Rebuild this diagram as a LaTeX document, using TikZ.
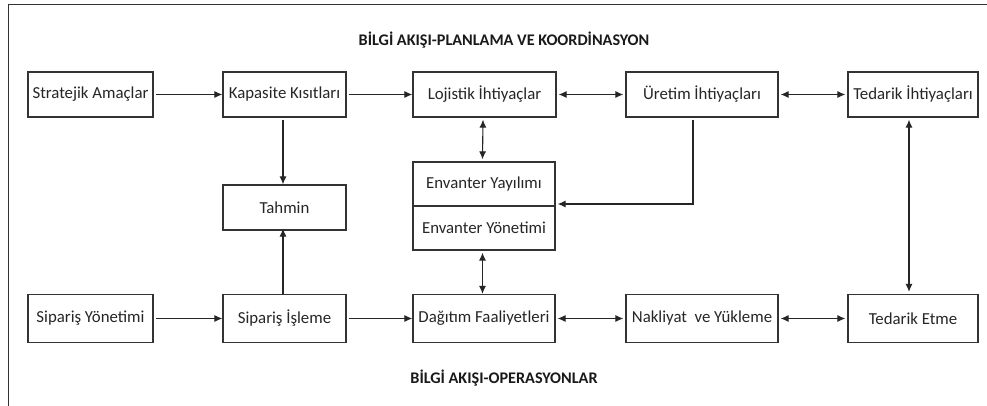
\documentclass[tikz,border=0pt]{standalone}
\usepackage{fontspec}
\setmainfont{Carlito}
\usetikzlibrary{arrows.meta}
\begin{document}
\begin{tikzpicture}[x=1pt,y=-1pt,
  box/.style={draw=black!80, line width=1.3pt, fill=white, inner sep=0pt,
    font=\fontsize{16.8}{19}\selectfont, text=black!85},
  title/.style={font=\fontsize{16.2}{19}\selectfont\bfseries, text=black!90},
  conn/.style={draw=black!85, line width=1.1pt},
  tip/.style={-{Latex[length=8pt,width=7pt]}},
  tips/.style={{Latex[length=8pt,width=7pt]}-{Latex[length=8pt,width=7pt]}}]
\clip (0,0) rectangle (987,406);
\useasboundingbox (0,0) rectangle (987,406);
\fill[white] (0,0) rectangle (987,406);
% outer frame
\draw[line width=1pt, black!80] (8,5) rectangle (1010,430);

% titles
\node[title] (t1) at (504,40) {BİLGİ AKIŞI-PLANLAMA VE KOORDİNASYON};
\node[title] (t2) at (504,378) {BİLGİ AKIŞI-OPERASYONLAR};

% planning row
\node[box, minimum width=125pt, minimum height=45pt] (strat) at (90.5,94.5) {Stratejik Amaçlar};
\node[box, minimum width=123pt, minimum height=45pt] (kap) at (284.5,94.5) {Kapasite Kısıtları};
\node[box, minimum width=143pt, minimum height=45pt] (loj) at (484.5,94.5) {Lojistik İhtiyaçlar};
\node[box, minimum width=152pt, minimum height=45pt] (uret) at (702,94.5) {Üretim İhtiyaçları};
\node[box, minimum width=130pt, minimum height=45pt] (tedi) at (913,94.5) {Tedarik İhtiyaçları};

% middle blocks
\node[box, minimum width=123pt, minimum height=45pt] (tah) at (284.5,207.5) {Tahmin};
\node[box, minimum width=142pt, minimum height=44pt] (envy) at (484,184) {Envanter Yayılımı};
\node[box, minimum width=142pt, minimum height=44pt] (envm) at (484,228) {Envanter Yönetimi};

% operations row
\node[box, minimum width=125pt, minimum height=48pt] (sy) at (90.5,318.5) {Sipariş Yönetimi};
\node[box, minimum width=123pt, minimum height=48pt] (si) at (284.5,318.5) {Sipariş İşleme};
\node[box, minimum width=142pt, minimum height=48pt] (dag) at (484,318.5) {Dağıtım Faaliyetleri};
\node[box, minimum width=152pt, minimum height=48pt] (nak) at (702,318.5) {Nakliyat\ \ ve Yükleme};
\node[box, minimum width=130pt, minimum height=48pt] (tede) at (913,318.5) {Tedarik Etme};

% planning flows
\draw[conn, tip] ([xshift=2pt]strat.east) -- (kap.west);
\draw[conn, tip] ([xshift=2pt]kap.east) -- (loj.west);
\draw[conn, tips] ([xshift=2pt]loj.east) -- ([xshift=-2pt]uret.west);
\draw[conn, tips] ([xshift=2pt]uret.east) -- ([xshift=-2pt]tedi.west);
\draw[conn, tip] ([xshift=-1.5pt,yshift=-2pt]kap.south) -- ([xshift=-1.5pt]tah.north);
\draw[conn, tips] ([xshift=-1.5pt,yshift=-2pt]loj.south) -- ([xshift=-1.5pt,yshift=2pt]envy.north);
\coordinate (bend) at (693,204);
\draw[conn, tip] ([xshift=-9pt,yshift=-2pt]uret.south) |- (bend) -- ([xshift=2pt]envy.east |- bend);
\draw[conn, tips] ([xshift=-4pt,yshift=-2pt]tedi.south) -- ([xshift=-4pt,yshift=2pt]tede.north);

% operations flows
\draw[conn, tip] ([xshift=2pt]sy.east) -- (si.west);
\draw[conn, tip] ([xshift=-1.5pt]si.north) -- ([xshift=-1.5pt,yshift=2pt]tah.south);
\draw[conn, tip] ([xshift=2pt]si.east) -- (dag.west);
\draw[conn, tips] ([xshift=-1.5pt,yshift=-2pt]envm.south) -- ([xshift=-1.5pt]dag.north);
\draw[conn, tips] ([xshift=2pt]dag.east) -- ([xshift=-2pt]nak.west);
\draw[conn, tips] ([xshift=2pt]nak.east) -- ([xshift=-2pt]tede.west);
\end{tikzpicture}
\end{document}
